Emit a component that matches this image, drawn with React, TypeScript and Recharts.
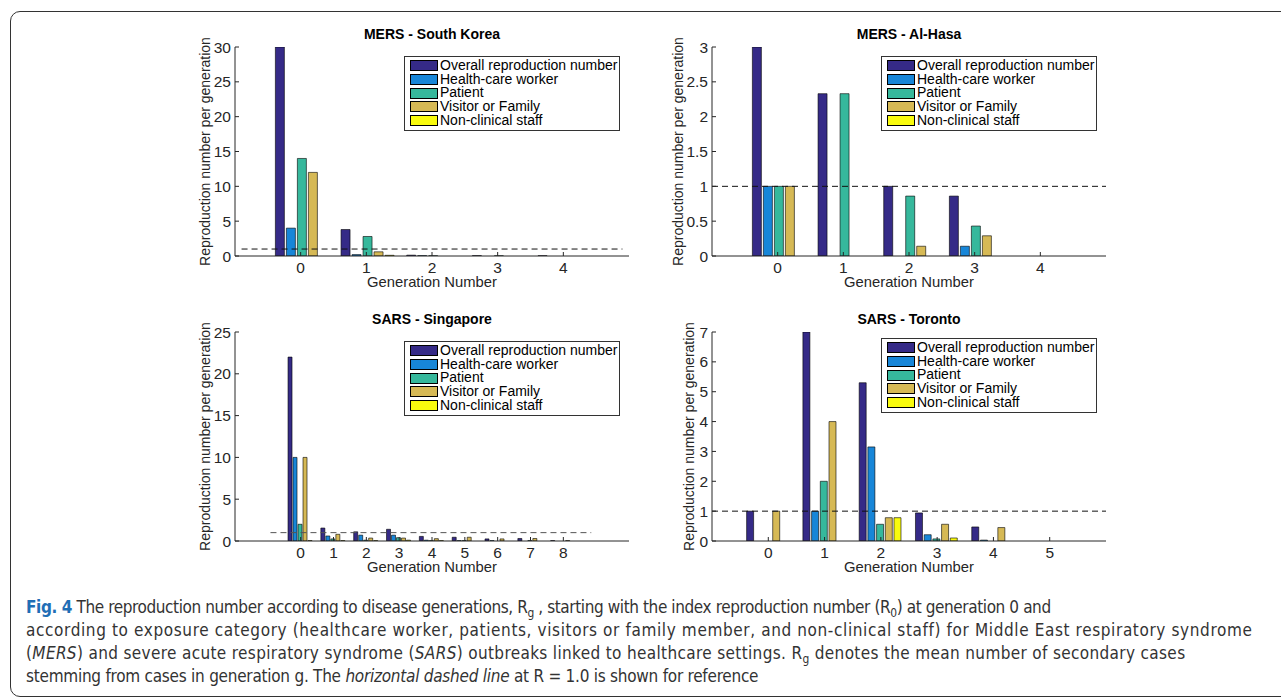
import { Bar, BarChart, Legend, ReferenceLine, XAxis, YAxis } from "recharts";

// Series names and colours (parula-like, as in the MATLAB original)
const SERIES = [
  "Overall reproduction number",
  "Health-care worker",
  "Patient",
  "Visitor or Family",
  "Non-clinical staff",
];
const KEYS = ["overall", "hcw", "patient", "visitor", "staff"];
const COLORS = ["#352A87", "#1786D8", "#36B89C", "#D6B955", "#F9FB0E"];

// MERS - South Korea
const skGenerations = [0, 1, 2, 3, 4];
const skOverall = [30, 3.8, 0.12, 0.05, 0.04];
const skHcw = [4, 0.2, 0.05, 0, 0];
const skPatient = [14, 2.8, 0.03, 0.03, 0];
const skVisitor = [12, 0.6, 0, 0, 0];
const skStaff = [0, 0.1, 0, 0, 0];
const skYTicks = [0, 5, 10, 15, 20, 25, 30];
const skDash = [-0.9, 4.9];

// MERS - Al-Hasa
const ahGenerations = [0, 1, 2, 3, 4];
const ahOverall = [3, 2.33, 1, 0.86, 0];
const ahHcw = [1, 0, 0, 0.14, 0];
const ahPatient = [1, 2.33, 0.86, 0.43, 0];
const ahVisitor = [1, 0, 0.14, 0.29, 0];
const ahStaff = [0, 0, 0, 0, 0];
const ahYTicks = [0, 0.5, 1, 1.5, 2, 2.5, 3];
const ahDash = [-1, 5];

// SARS - Singapore
const sgGenerations = [0, 1, 2, 3, 4, 5, 6, 7, 8];
const sgOverall = [22, 1.55, 1.1, 1.4, 0.55, 0.45, 0.25, 0.3, 0.05];
const sgHcw = [10, 0.6, 0.7, 0.7, 0.1, 0.05, 0.05, 0, 0];
const sgPatient = [2, 0.25, 0.1, 0.4, 0.05, 0.05, 0, 0.05, 0];
const sgVisitor = [10, 0.8, 0.35, 0.35, 0.28, 0.45, 0.25, 0.3, 0.05];
const sgStaff = [0.05, 0.05, 0.05, 0.1, 0.05, 0, 0, 0, 0];
const sgYTicks = [0, 5, 10, 15, 20, 25];
const sgDash = [-0.92, 8.85];

// SARS - Toronto
const toGenerations = [0, 1, 2, 3, 4, 5];
const toOverall = [1, 7, 5.3, 0.94, 0.47, 0];
const toHcw = [0, 1, 3.15, 0.21, 0.03, 0];
const toPatient = [0, 2, 0.56, 0.07, 0, 0];
const toVisitor = [1, 4, 0.78, 0.56, 0.45, 0];
const toStaff = [0, 0, 0.78, 0.1, 0, 0];
const toYTicks = [0, 1, 2, 3, 4, 5, 6, 7];
const toDash = [-1, 6];

type Row = { gen: number; [k: string]: number };

function toRows(gens: number[], series: number[][]): Row[] {
  return gens.map((g, i) => {
    const r: Row = { gen: g };
    KEYS.forEach((k, j) => (r[k] = series[j][i]));
    return r;
  });
}

const FONT = '"Liberation Sans", Arial, Helvetica, sans-serif';
const AXIS = "#262626";
const TICK_FS = 15.5;
const PLOT_W = 394;
const PLOT_H = 209;
const M_LEFT = 20;
const Y_W = 40;
const M_TOP = 30;
const M_RIGHT = 10;
const X_H = 40;

function BottomTick({ x, y, payload }: any) {
  return (
    <g>
      <line x1={x} x2={x} y1={y} y2={y - 4} stroke={AXIS} />
      <text x={x} y={y + 16.5} textAnchor="middle" fill={AXIS} fontSize={TICK_FS} fontFamily={FONT}>
        {payload.value}
      </text>
    </g>
  );
}
function TopTick({ x, y }: any) {
  return <line x1={x} x2={x} y1={y} y2={y + 4} stroke={AXIS} />;
}
function LeftTick({ x, y, payload }: any) {
  return (
    <g>
      <line x1={x} x2={x + 4} y1={y} y2={y} stroke={AXIS} />
      <text x={x - 4} y={y + 5.5} textAnchor="end" fill={AXIS} fontSize={TICK_FS} fontFamily={FONT}>
        {payload.value}
      </text>
    </g>
  );
}
function RightTick({ x, y }: any) {
  return <line x1={x} x2={x - 4} y1={y} y2={y} stroke={AXIS} />;
}

function LegendBox({ payload }: any) {
  const items = [...(payload ?? [])].sort(
    (a: any, b: any) => SERIES.indexOf(a.value) - SERIES.indexOf(b.value)
  );
  return (
    <div
      style={{
        border: "1px solid #333",
        background: "#fff",
        padding: "2px 0 3px 5px",
        fontFamily: FONT,
        fontSize: 14,
        color: "#000",
      }}
    >
      {items.map((p: any) => (
        <div key={p.value} style={{ display: "flex", alignItems: "center", height: 13.7 }}>
          <span
            style={{
              width: 26,
              height: 9,
              background: p.color,
              border: "1px solid #000",
              marginRight: 2,
              flex: "none",
            }}
          />
          <span style={{ whiteSpace: "nowrap", lineHeight: "13.7px" }}>{p.value}</span>
        </div>
      ))}
    </div>
  );
}

type PanelProps = {
  title: string;
  gens: number[];
  series: number[][];
  xDomain: [number, number];
  yTicks: number[];
  dash: number[];
  dashColor: string;
  left: number;
  top: number;
  yLabelGap: number;
  barGap: number;
  legendDy: number;
};

function Panel(p: PanelProps) {
  const rows = toRows(p.gens, p.series);
  const band = PLOT_W / (p.xDomain[1] - p.xDomain[0]);
  const padL = (p.gens[0] - 0.5 - p.xDomain[0]) * band;
  const padR = (p.xDomain[1] - (p.gens[p.gens.length - 1] + 0.5)) * band;
  const yMax = p.yTicks[p.yTicks.length - 1];
  const chartLeft = p.left - M_LEFT - Y_W;
  const chartTop = p.top - M_TOP;
  const width = M_LEFT + Y_W + PLOT_W + M_RIGHT;
  const height = M_TOP + PLOT_H + X_H;
  return (
    <div style={{ position: "absolute", left: chartLeft, top: chartTop, width, height }}>
      <div
        style={{
          position: "absolute",
          left: M_LEFT + Y_W,
          width: PLOT_W,
          top: M_TOP - 21,
          textAlign: "center",
          fontFamily: FONT,
          fontWeight: "bold",
          fontSize: 14,
          color: "#000",
        }}
      >
        {p.title}
      </div>
      <BarChart
        width={width}
        height={height}
        data={rows}
        margin={{ top: M_TOP, right: M_RIGHT, left: M_LEFT, bottom: 0 }}
        barCategoryGap="11.5%"
        barGap={p.barGap}
      >
        <XAxis
          dataKey="gen"
          type="category"
          height={X_H}
          padding={{ left: padL, right: padR }}
          interval={0}
          tickLine={false}
          tickSize={0}
          tickMargin={0}
          tick={<BottomTick />}
          stroke={AXIS}
          label={{
            value: "Generation Number",
            position: "insideBottom",
            offset: 9,
            fill: AXIS,
            fontSize: 14.8,
            fontFamily: FONT,
          }}
        />
        <XAxis
          xAxisId="top"
          dataKey="gen"
          type="category"
          orientation="top"
          height={0}
          padding={{ left: padL, right: padR }}
          interval={0}
          tickLine={false}
          tickSize={0}
          tickMargin={0}
          tick={<TopTick />}
          stroke={AXIS}
        />
        <XAxis xAxisId="num" type="number" dataKey="gen" domain={p.xDomain} allowDataOverflow hide />
        <YAxis
          width={Y_W}
          domain={[0, yMax]}
          ticks={p.yTicks}
          interval={0}
          allowDataOverflow
          tickLine={false}
          tickSize={0}
          tickMargin={0}
          tick={<LeftTick />}
          stroke={AXIS}
          label={{
            value: "Reproduction number per generation",
            angle: -90,
            position: "insideLeft",
            offset: Y_W - p.yLabelGap,
            fill: AXIS,
            fontSize: 14,
            fontFamily: FONT,
            style: { textAnchor: "middle" },
          }}
        />
        <YAxis
          yAxisId="right"
          orientation="right"
          width={0}
          domain={[0, yMax]}
          ticks={p.yTicks}
          interval={0}
          allowDataOverflow
          tickLine={false}
          tickSize={0}
          tickMargin={0}
          tick={<RightTick />}
          stroke={AXIS}
        />
        {KEYS.map((k, i) => (
          <Bar
            key={k}
            dataKey={k}
            name={SERIES[i]}
            fill={COLORS[i]}
            stroke="#000"
            strokeWidth={0.6}
            isAnimationActive={false}
          />
        ))}
        <ReferenceLine
          xAxisId="num"
          segment={[
            { x: p.dash[0], y: 1 },
            { x: p.dash[1], y: 1 },
          ]}
          stroke={p.dashColor}
          strokeDasharray="6 4"
          ifOverflow="visible"
        />
        <Legend
          layout="vertical"
          align="center"
          verticalAlign="middle"
          wrapperStyle={{
            left: M_LEFT + Y_W + PLOT_W - 9 - 216,
            top: M_TOP + p.legendDy,
            width: 216,
          }}
          content={<LegendBox />}
        />
      </BarChart>
    </div>
  );
}

const CAPTION_STYLE = {
  position: "absolute" as const,
  left: 26,
  top: 596,
  fontFamily: '"DejaVu Sans Condensed", "Liberation Sans Narrow", sans-serif',
  fontSize: 17,
  lineHeight: "23px",
  color: "#333",
};
const SUB = { fontSize: "70%", lineHeight: 0 };

export default function App() {
  return (
    <div
      style={{
        position: "absolute",
        left: 0,
        top: 0,
        width: 1281,
        height: 699,
        overflow: "hidden",
        background: "#fff",
      }}
    >
      <div
        style={{
          position: "absolute",
          left: 10,
          top: 11,
          width: 1300,
          height: 684,
          border: "1.5px solid #333",
          borderRadius: 10,
        }}
      />
      <Panel
        title="MERS - South Korea"
        gens={skGenerations}
        series={[skOverall, skHcw, skPatient, skVisitor, skStaff]}
        xDomain={[-1, 5]}
        yTicks={skYTicks}
        dash={skDash}
        dashColor="#111"
        left={235}
        top={47}
        yLabelGap={30}
        barGap={2}
        legendDy={9}
      />
      <Panel
        title="MERS - Al-Hasa"
        gens={ahGenerations}
        series={[ahOverall, ahHcw, ahPatient, ahVisitor, ahStaff]}
        xDomain={[-1, 5]}
        yTicks={ahYTicks}
        dash={ahDash}
        dashColor="#111"
        left={712}
        top={47}
        yLabelGap={34}
        barGap={2}
        legendDy={9}
      />
      <Panel
        title="SARS - Singapore"
        gens={sgGenerations}
        series={[sgOverall, sgHcw, sgPatient, sgVisitor, sgStaff]}
        xDomain={[-2, 10]}
        yTicks={sgYTicks}
        dash={sgDash}
        dashColor="#555"
        left={235}
        top={332}
        yLabelGap={30}
        barGap={1}
        legendDy={9}
      />
      <Panel
        title="SARS - Toronto"
        gens={toGenerations}
        series={[toOverall, toHcw, toPatient, toVisitor, toStaff]}
        xDomain={[-1, 6]}
        yTicks={toYTicks}
        dash={toDash}
        dashColor="#111"
        left={712}
        top={332}
        yLabelGap={23}
        barGap={1.7}
        legendDy={6}
      />
      <div style={CAPTION_STYLE}>
        <div style={{ whiteSpace: "nowrap", letterSpacing: -0.4 }}>
          <b style={{ color: "#1F6EB5" }}>Fig. 4</b> The reproduction number according to disease generations, R
          <sub style={SUB}>g</sub> , starting with the index reproduction number (R<sub style={SUB}>0</sub>) at
          generation 0 and
        </div>
        <div style={{ whiteSpace: "nowrap", letterSpacing: 0.62 }}>
          according to exposure category (healthcare worker, patients, visitors or family member, and non-clinical
          staff) for Middle East respiratory syndrome
        </div>
        <div style={{ whiteSpace: "nowrap", letterSpacing: 0.35 }}>
          (<i>MERS</i>) and severe acute respiratory syndrome (<i>SARS</i>) outbreaks linked to healthcare settings. R
          <sub style={SUB}>g</sub> denotes the mean number of secondary cases
        </div>
        <div style={{ whiteSpace: "nowrap", letterSpacing: -0.25 }}>
          stemming from cases in generation g. The <i>horizontal dashed line</i> at R = 1.0 is shown for reference
        </div>
      </div>
    </div>
  );
}
